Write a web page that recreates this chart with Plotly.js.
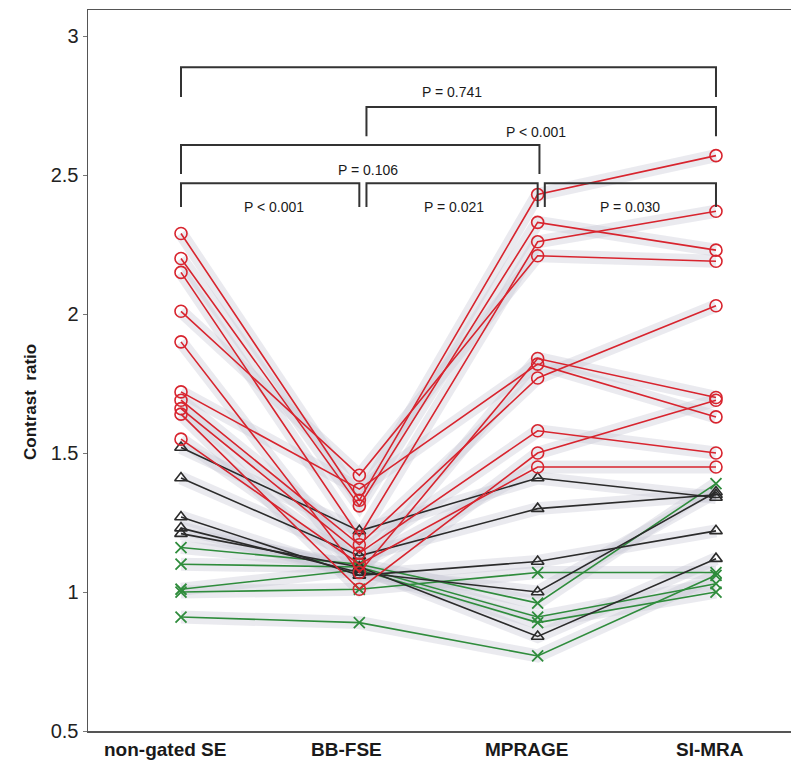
<!DOCTYPE html>
<html>
<head>
<meta charset="utf-8">
<script src="https://cdn.plot.ly/plotly-3.0.1.min.js"></script>
<style>html,body{margin:0;padding:0;background:#fff;}#chart{width:791px;height:763px;}</style>
</head>
<body>
<div id="chart"></div>
<script>
// Categories (x positions 0..3)
const categories = ['non-gated SE', 'BB-FSE', 'MPRAGE', 'SI-MRA'];
const xIdx = [0, 1, 2, 3];

// Red circles series: values at [SE, BB-FSE, MPRAGE, SI-MRA]
const redSeries = [
  [2.29, 1.33, 2.43, 2.57],
  [2.20, 1.31, 2.33, 2.23],
  [2.15, 1.20, 2.26, 2.37],
  [2.01, 1.42, 2.21, 2.19],
  [1.90, 1.07, 1.84, 1.70],
  [1.72, 1.37, 1.82, 1.63],
  [1.69, 1.17, 1.77, 2.03],
  [1.66, 1.14, 1.58, 1.50],
  [1.64, 1.01, 1.50, 1.69],
  [1.55, 1.10, 1.45, 1.45]
];

// Black triangles series
const blackSeries = [
  [1.52, 1.22, 1.41, 1.34],
  [1.41, 1.13, 1.30, 1.35],
  [1.27, 1.06, 1.11, 1.22],
  [1.23, 1.07, 1.00, 1.36],
  [1.21, 1.09, 0.84, 1.12]
];

// Green crosses series
const greenSeries = [
  [1.16, 1.10, 0.96, 1.39],
  [1.10, 1.09, 0.91, 1.03],
  [1.01, 1.08, 0.89, 1.00],
  [1.00, 1.01, 1.07, 1.07],
  [0.91, 0.89, 0.77, 1.06]
];

// Pairwise comparison brackets
const brackets = [
  {from: 0, to: 3, label: 'P = 0.741', top: 2.888, leg: 2.781, textY: 2.80, textX: 1.52},
  {from: 1.04, to: 3, label: 'P < 0.001', top: 2.745, leg: 2.640, textY: 2.655, textX: 1.99},
  {from: 0, to: 2.01, label: 'P = 0.106', top: 2.608, leg: 2.504, textY: 2.52, textX: 1.05},
  {from: 0, to: 1.0, label: 'P < 0.001', top: 2.471, leg: 2.385, textY: 2.385, textX: 0.52},
  {from: 1.04, to: 2.0, label: 'P = 0.021', top: 2.471, leg: 2.385, textY: 2.385, textX: 1.53},
  {from: 2.04, to: 3, label: 'P = 0.030', top: 2.471, leg: 2.385, textY: 2.385, textX: 2.52}
];

const FONT = 'Liberation Sans, Arial, sans-serif';
const RED = '#d8242e', BLACK = '#2b2b2b', GREEN = '#2f8c3c';
const traces = [];
const halo = 'rgba(200,200,212,0.38)';
[greenSeries, blackSeries, redSeries].forEach(group => {
  group.forEach(s => traces.push({
    x: xIdx, y: s, type: 'scatter', mode: 'lines',
    line: {color: halo, width: 13}, hoverinfo: 'skip', showlegend: false
  }));
});
greenSeries.forEach(s => traces.push({
  x: xIdx, y: s, type: 'scatter', mode: 'lines+markers',
  line: {color: GREEN, width: 1.6},
  marker: {symbol: 'x-thin-open', size: 11, color: GREEN, line: {color: GREEN, width: 1.8}},
  showlegend: false
}));
blackSeries.forEach(s => traces.push({
  x: xIdx, y: s, type: 'scatter', mode: 'lines+markers',
  line: {color: BLACK, width: 1.6},
  marker: {symbol: 'triangle-up-open', size: 11, color: BLACK, line: {color: BLACK, width: 1.6}},
  showlegend: false
}));
redSeries.forEach(s => traces.push({
  x: xIdx, y: s, type: 'scatter', mode: 'lines+markers',
  line: {color: RED, width: 1.6},
  marker: {symbol: 'circle-open', size: 12, color: RED, line: {color: RED, width: 1.6}},
  showlegend: false
}));

const shapes = [];
const annotations = [];
brackets.forEach(b => {
  shapes.push({type: 'path', xref: 'x', yref: 'y',
    path: `M ${b.from},${b.leg} L ${b.from},${b.top} L ${b.to},${b.top} L ${b.to},${b.leg}`,
    line: {color: '#333', width: 2}});
  annotations.push({x: b.textX, y: b.textY, xref: 'x', yref: 'y', text: b.label, showarrow: false,
    font: {family: FONT, size: 14, color: '#1a1a1a'}, yanchor: 'middle'});
});

// Category labels below the axis (slightly left of each point, as in the reference)
const labelShift = [-16, -13, -11, -6];
categories.forEach((c, i) => annotations.push({
  x: xIdx[i], y: 0, xref: 'x', yref: 'paper', yanchor: 'top', yshift: -6, xshift: labelShift[i],
  text: '<b>' + c + '</b>', showarrow: false,
  font: {family: FONT, size: 19, color: '#1a1a1a'}
}));
// y-axis title
annotations.push({x: 0, y: 0, xref: 'paper', yref: 'paper', xanchor: 'center', yanchor: 'middle',
  xshift: -58, yshift: 329,
  text: '<b>Contrast  ratio</b>', textangle: -90, showarrow: false,
  font: {family: FONT, size: 17, color: '#1a1a1a'}});

const layout = {
  width: 791, height: 763,
  margin: {l: 88, r: 0, t: 10, b: 32},
  paper_bgcolor: '#fff', plot_bgcolor: '#fff',
  showlegend: false,
  xaxis: {
    range: [-0.5215, 3.4206], tickvals: xIdx, showticklabels: false,
    showgrid: false, zeroline: false, showline: true, mirror: true,
    linecolor: '#555', linewidth: 1.5, ticks: ''
  },
  yaxis: {
    range: [0.5, 3.094], tickvals: [0.5, 1, 1.5, 2, 2.5, 3],
    ticktext: ['0.5', '1', '1.5', '2', '2.5', '3'],
    showgrid: false, zeroline: false, showline: true, linecolor: '#555', linewidth: 1.5,
    ticks: 'outside', ticklen: 4, tickcolor: '#777',
    tickfont: {family: FONT, size: 20, color: '#222'}
  },
  shapes: shapes,
  annotations: annotations
};

Plotly.newPlot('chart', traces, layout, {displayModeBar: false, staticPlot: true});
</script>
</body>
</html>
